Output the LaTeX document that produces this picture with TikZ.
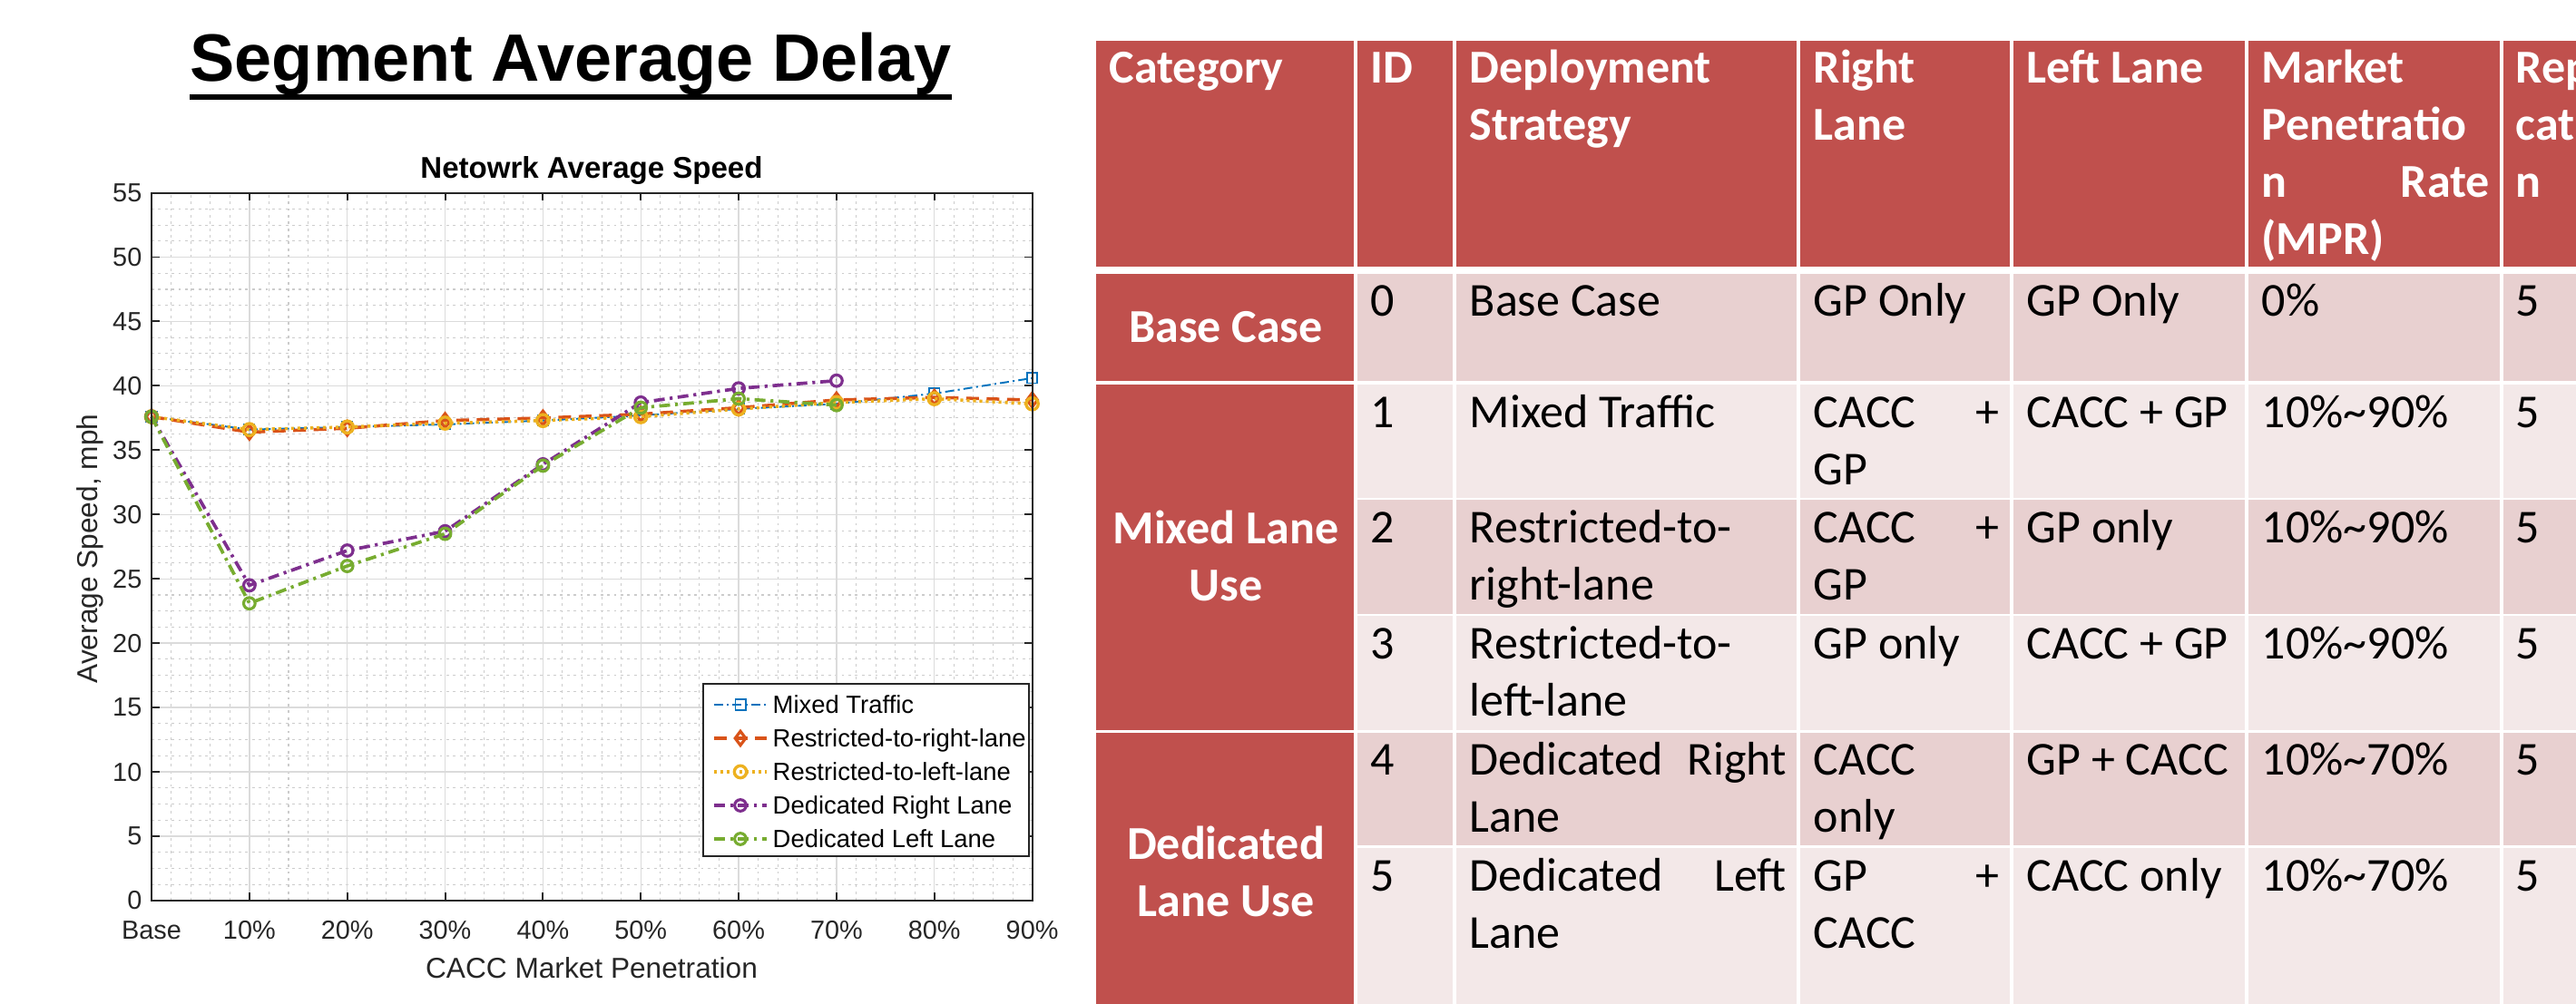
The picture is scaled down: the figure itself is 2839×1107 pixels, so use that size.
\documentclass[tikz,border=0pt]{standalone}
\usepackage{fontspec}
\usepackage{tikz}
\usetikzlibrary{plotmarks}
\newfontfamily\helv{Liberation Sans}
\newfontfamily\calib{Carlito}
\definecolor{mblue}{rgb}{0,0.447,0.741}
\definecolor{morange}{rgb}{0.850,0.325,0.098}
\definecolor{myellow}{rgb}{0.929,0.694,0.125}
\definecolor{mpurple}{rgb}{0.494,0.184,0.556}
\definecolor{mgreen}{rgb}{0.466,0.674,0.188}
\definecolor{tabred}{RGB}{192,80,77}
\definecolor{banddark}{RGB}{232,208,208}
\definecolor{bandlight}{RGB}{243,232,232}
\newcommand{\stackl}[1]{\begin{tabular}[t]{@{}l@{}}#1\end{tabular}}
\newcommand{\stackc}[1]{\begin{tabular}[t]{@{}c@{}}#1\end{tabular}}
\newcommand{\just}[2]{\makebox[#1][s]{#2}}

\begin{document}
\begin{tikzpicture}[
    x=0.01cm, y=-0.01cm,
    tabhead/.style={font=\calib\fontsize{14.8}{17.9}\selectfont\bfseries, text=white, inner sep=0, anchor=base west},
    tabcat/.style={font=\calib\fontsize{14.8}{17.9}\selectfont\bfseries, text=white, inner sep=0, anchor=base},
    tabcell/.style={font=\calib\fontsize{14.8}{17.9}\selectfont, text=black, inner sep=0, anchor=base west},
    ticklab/.style={font=\helv\fontsize{8.2}{9.8}\selectfont, text=black!85, inner sep=0},
    axlab/.style={font=\helv\fontsize{9}{10.8}\selectfont, text=black!85, inner sep=0},
    leglab/.style={font=\helv\fontsize{7.8}{9.4}\selectfont, text=black, inner sep=0, anchor=base west},
    minorgrid/.style={black!20, line width=0.3pt, dash pattern=on 0.8pt off 1.3pt},
    majorgrid/.style={black!14, line width=0.4pt},
    axisline/.style={black!85, line width=0.55pt},
    colline/.style={white, line width=0.035cm},
    mixedline/.style={mblue, line width=0.55pt, dash pattern=on 2.8pt off 1.2pt on 0.6pt off 1.2pt,
        mark=square, mark size=1.6pt, mark options={solid, line width=0.5pt}},
    rightline/.style={morange, line width=1pt, dash pattern=on 4pt off 2.4pt,
        mark=diamond, mark size=2.2pt, mark options={solid, line width=0.9pt}},
    leftline/.style={myellow, line width=1pt, dash pattern=on 0.9pt off 1.1pt,
        mark=o, mark size=1.9pt, mark options={solid, line width=0.95pt}},
    dedrline/.style={mpurple, line width=1.05pt, dash pattern=on 3.4pt off 1.6pt on 0.9pt off 1.6pt,
        mark=o, mark size=1.8pt, mark options={solid, line width=0.9pt}},
    dedlline/.style={mgreen, line width=1.05pt, dash pattern=on 3.4pt off 1.6pt on 0.9pt off 1.6pt,
        mark=o, mark size=1.8pt, mark options={solid, line width=0.9pt}}
]
    \useasboundingbox (0,0) rectangle (2839,1107);
    \clip (0,0) rectangle (2839,1107);

    % title
    \node[font=\helv\bfseries\fontsize{21}{25}\selectfont, inner sep=0, anchor=base] (ttl) at (629,90) {Segment Average Delay};
    \draw[line width=0.06cm] ([yshift=-0.17cm]ttl.base west) -- ([yshift=-0.17cm]ttl.base east);

    % chart
    \node[font=\helv\bfseries\fontsize{9.4}{11}\selectfont, inner sep=0, anchor=base] (ptitle) at (652,197) {Netowrk Average Speed};
    \begin{scope}[shift={(167,993)}, x=1.0778cm, y=0.14182cm]
        \foreach \i in {0,...,8} \foreach \k in {1,...,4}
            \draw[minorgrid] ({\i+\k/5},0) -- ({\i+\k/5},55);
        \foreach \j in {0,...,10} \foreach \k in {1,2,3}
            \draw[minorgrid] (0,{5*\j+1.25*\k}) -- (9,{5*\j+1.25*\k});
        \foreach \i in {1,...,8} \draw[majorgrid] (\i,0) -- (\i,55);
        \foreach \v in {5,10,...,50} \draw[majorgrid] (0,\v) -- (9,\v);

        \draw[mixedline] plot coordinates {(0,37.6) (1,36.6) (2,36.8) (3,37.0) (4,37.3) (5,37.7) (6,38.2) (7,38.6) (8,39.4) (9,40.6)};
        \draw[rightline] plot coordinates {(0,37.6) (1,36.4) (2,36.7) (3,37.3) (4,37.5) (5,37.8) (6,38.3) (7,38.9) (8,39.1) (9,38.9)};
        \draw[leftline] plot coordinates {(0,37.6) (1,36.6) (2,36.8) (3,37.1) (4,37.3) (5,37.6) (6,38.2) (7,38.7) (8,39.0) (9,38.6)};
        \draw[dedrline] plot coordinates {(0,37.6) (1,24.5) (2,27.2) (3,28.7) (4,33.9) (5,38.7) (6,39.8) (7,40.4)};
        \draw[dedlline] plot coordinates {(0,37.6) (1,23.1) (2,26.0) (3,28.5) (4,33.8) (5,38.3) (6,39.0) (7,38.5)};

        \draw[axisline] (0,0) rectangle (9,55);
        \foreach \i in {1,...,8} {
            \draw[axisline] (\i,0) -- ++(0,0.63);
            \draw[axisline] (\i,55) -- ++(0,-0.63);
        }
        \foreach \v in {5,10,...,50} {
            \draw[axisline] (0,\v) -- ++(0.0835,0);
            \draw[axisline] (9,\v) -- ++(-0.0835,0);
        }
        \foreach \v in {0,5,...,55}
            \node[ticklab, anchor=east] (yt\v) at ([xshift=-0.1cm]0,\v) {\v};
        \node[ticklab, anchor=base] (xt0) at ([yshift=-0.42cm]0,0) {Base};
        \foreach \i in {1,...,9}
            \node[ticklab, anchor=base] (xt\i) at ([yshift=-0.42cm]\i,0) {\i0\%};
    \end{scope}
    \node[axlab, rotate=90] (ylab) at (99,605) {Average Speed, mph};
    \node[axlab, anchor=base] (xlab) at (652,1079) {CACC Market Penetration};

    % legend
    \draw[axisline, fill=white, line width=0.45pt] (775,754) rectangle (1134,944);
    \foreach \st/\txt/\ly [count=\n] in {mixedline/Mixed Traffic/777, rightline/Restricted-to-right-lane/814,
        leftline/Restricted-to-left-lane/851, dedrline/Dedicated Right Lane/888, dedlline/Dedicated Left Lane/925} {
        \draw[\st] (787,\ly) -- (845,\ly);
        \path[\st] plot coordinates {(816,\ly)};
        \node[leglab] (leg\n) at (851,\ly+10) {\txt};
    }

    % table
    \fill[tabred] (1208,45) rectangle (2900,294);
    \fill[tabred] (1208,302) rectangle (1494,420);
    \fill[tabred] (1208,424) rectangle (1494,805);
    \fill[tabred] (1208,808) rectangle (1494,1120);
    \foreach \top/\bot/\band in {302/420/banddark, 424/549/bandlight, 551/677/banddark,
        679/805/bandlight, 808/932/banddark, 935/1120/bandlight}
        \fill[\band] (1494,\top) rectangle (2900,\bot);
    \foreach \cx in {1494,1603,1982,2217,2476,2757}
        \draw[colline] (\cx,40) -- (\cx,1110);

    \node[tabhead] (hcat) at (1222,92) {Category};
    \node[tabhead] (hid) at (1510,92) {ID};
    \node[tabhead] (hdep) at (1619,92) {\stackl{Deployment\\Strategy}};
    \node[tabhead] (hrl) at (1998,92) {\stackl{Right\\Lane}};
    \node[tabhead] (hll) at (2233,92) {Left Lane};
    \node[tabhead] (hmpr) at (2492,92) {\stackl{Market\\Penetratio\\\just{2.51cm}{n Rate}\\(MPR)}};
    \node[tabhead] (hrep) at (2772,92) {\stackl{Rep\\cat\\n}};

    \node[tabcat] (cbase) at (1351,378) {Base Case};
    \node[tabcat] (cmix) at (1351,600) {\stackc{Mixed Lane\\Use}};
    \node[tabcat] (cded) at (1351,948) {\stackc{Dedicated\\Lane Use}};

    % base case
    \node[tabcell] (r0id) at (1510,349) {0};
    \node[tabcell] (r0dep) at (1619,349) {Base Case};
    \node[tabcell] (r0rl) at (1998,349) {GP Only};
    \node[tabcell] (r0ll) at (2233,349) {GP Only};
    \node[tabcell] (r0mpr) at (2492,349) {0\%};
    \node[tabcell] (r0rep) at (2772,349) {5};
    % mixed lane use
    \node[tabcell] (r1id) at (1510,472) {1};
    \node[tabcell] (r1dep) at (1619,472) {Mixed Traffic};
    \node[tabcell] (r1rl) at (1998,472) {\stackl{\just{2.05cm}{CACC +}\\GP}};
    \node[tabcell] (r1ll) at (2233,472) {CACC + GP};
    \node[tabcell] (r1mpr) at (2492,472) {10\%\textasciitilde 90\%};
    \node[tabcell] (r1rep) at (2772,472) {5};
    \node[tabcell] (r2id) at (1510,599) {2};
    \node[tabcell] (r2dep) at (1619,599) {\stackl{Restricted-to-\\right-lane}};
    \node[tabcell] (r2rl) at (1998,599) {\stackl{\just{2.05cm}{CACC +}\\GP}};
    \node[tabcell] (r2ll) at (2233,599) {GP only};
    \node[tabcell] (r2mpr) at (2492,599) {10\%\textasciitilde 90\%};
    \node[tabcell] (r2rep) at (2772,599) {5};
    \node[tabcell] (r3id) at (1510,727) {3};
    \node[tabcell] (r3dep) at (1619,727) {\stackl{Restricted-to-\\left-lane}};
    \node[tabcell] (r3rl) at (1998,727) {GP only};
    \node[tabcell] (r3ll) at (2233,727) {CACC + GP};
    \node[tabcell] (r3mpr) at (2492,727) {10\%\textasciitilde 90\%};
    \node[tabcell] (r3rep) at (2772,727) {5};
    % dedicated lane use
    \node[tabcell] (r4id) at (1510,855) {4};
    \node[tabcell] (r4dep) at (1619,855) {\stackl{\just{3.49cm}{Dedicated Right}\\Lane}};
    \node[tabcell] (r4rl) at (1998,855) {\stackl{CACC\\only}};
    \node[tabcell] (r4ll) at (2233,855) {GP + CACC};
    \node[tabcell] (r4mpr) at (2492,855) {10\%\textasciitilde 70\%};
    \node[tabcell] (r4rep) at (2772,855) {5};
    \node[tabcell] (r5id) at (1510,983) {5};
    \node[tabcell] (r5dep) at (1619,983) {\stackl{\just{3.49cm}{Dedicated Left}\\Lane}};
    \node[tabcell] (r5rl) at (1998,983) {\stackl{\just{2.05cm}{GP +}\\CACC}};
    \node[tabcell] (r5ll) at (2233,983) {CACC only};
    \node[tabcell] (r5mpr) at (2492,983) {10\%\textasciitilde 70\%};
    \node[tabcell] (r5rep) at (2772,983) {5};
\end{tikzpicture}
\end{document}
